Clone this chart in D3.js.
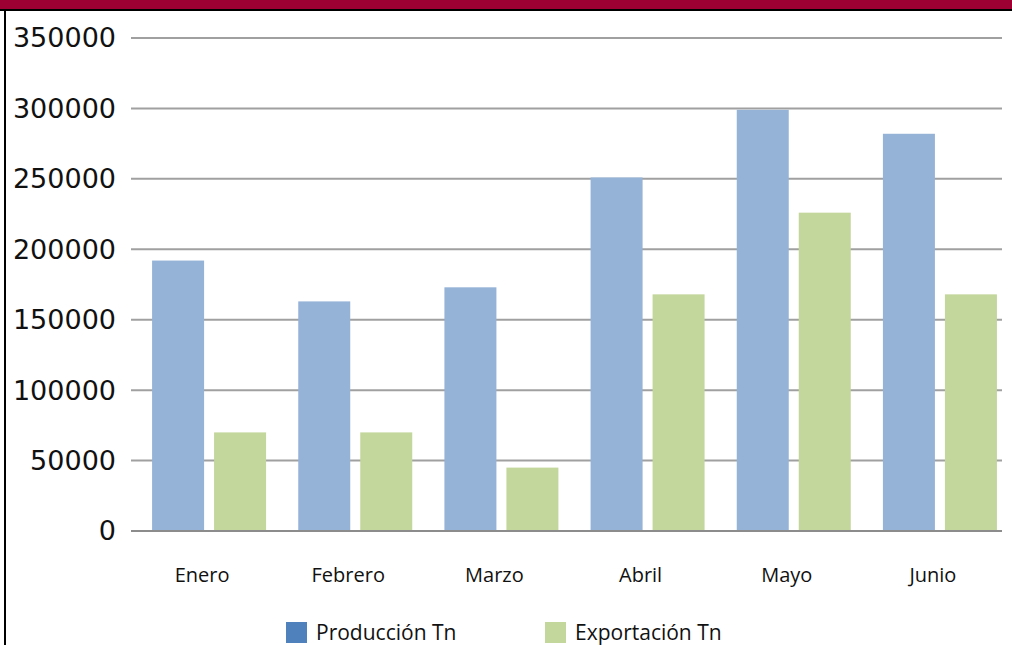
<!DOCTYPE html>
<meta charset='utf-8'>
<style>
  body { margin: 0; background: #fff; }
  .ylab { font-family: 'DejaVu Sans', sans-serif; font-size: 27px; fill: #111; }
  .xlab { font-family: 'Open Sans', sans-serif; font-size: 20px; fill: #111; }
  .leg { font-family: 'Open Sans', sans-serif; font-size: 21px; fill: #111; }
</style>
<svg width='1012' height='645'></svg>
<script src="https://d3js.org/d3.v7.min.js"></script>
<script>
  var months = ['Enero', 'Febrero', 'Marzo', 'Abril', 'Mayo', 'Junio'];
  var produccion = [192000, 163000, 173000, 251000, 299000, 282000];
  var exportacion = [70000, 70000, 45000, 168000, 226000, 168000];
  var seriesNames = ['Producción Tn', 'Exportación Tn'];
  var yTicks = [0, 50000, 100000, 150000, 200000, 250000, 300000, 350000];

  var barColors = ['#95b3d7', '#c3d69b'];
  var legendColors = ['#4f81bd', '#c3d69b'];

  var svg = d3.select('svg');

  // header band and frame
  svg.append('rect').attr('x', 0).attr('y', 0).attr('width', 1012).attr('height', 9).attr('fill', '#9e0034');
  svg.append('rect').attr('x', 0).attr('y', 9).attr('width', 1012).attr('height', 2).attr('fill', '#000');
  svg.append('rect').attr('x', 4).attr('y', 9).attr('width', 2).attr('height', 636).attr('fill', '#000');

  var y = d3.scaleLinear().domain([0, 350000]).range([531, 38]);
  var x0 = d3.scaleBand().domain(months).range([136, 1013]);
  var x1 = d3.scaleBand().domain([0, 1]).range([0, 114]).paddingInner(10 / 62);

  // gridlines
  svg.append('g').selectAll('line').data(yTicks).enter().append('line')
    .attr('x1', 131).attr('x2', 1002)
    .attr('y1', function(d) { return y(d); })
    .attr('y2', function(d) { return y(d); })
    .attr('stroke', function(d) { return d === 0 ? '#8c8c8c' : '#a0a0a0'; })
    .attr('stroke-width', 2);

  svg.append('g').selectAll('text').data(yTicks).enter().append('text')
    .attr('class', 'ylab')
    .attr('x', 116)
    .attr('y', function(d) { return y(d); })
    .attr('dy', '0.35em')
    .attr('text-anchor', 'end')
    .text(function(d) { return d; });

  var rows = months.map(function(m, i) { return { m: m, v: [produccion[i], exportacion[i]] }; });

  var groups = svg.append('g').selectAll('g').data(rows).enter().append('g')
    .attr('transform', function(d) { return 'translate(' + (x0(d.m) + x0.bandwidth() / 2 - 57) + ',0)'; });

  groups.selectAll('rect').data(function(d) { return d.v; }).enter().append('rect')
    .attr('x', function(d, i) { return x1(i); })
    .attr('width', x1.bandwidth())
    .attr('y', function(d) { return y(d); })
    .attr('height', function(d) { return y(0) - y(d) - 1; })
    .attr('fill', function(d, i) { return barColors[i]; });

  svg.append('g').selectAll('text').data(months).enter().append('text')
    .attr('class', 'xlab')
    .attr('x', function(d) { return x0(d) + x0.bandwidth() / 2 - 7; })
    .attr('y', 582)
    .attr('text-anchor', 'middle')
    .text(function(d) { return d; });

  // legend
  var legX = [286, 545];
  var leg = svg.append('g').selectAll('g').data(seriesNames).enter().append('g')
    .attr('transform', function(d, i) { return 'translate(' + legX[i] + ',622)'; });
  leg.append('rect').attr('width', 21).attr('height', 21)
    .attr('fill', function(d, i) { return legendColors[i]; });
  leg.append('text').attr('class', 'leg').attr('x', 30).attr('y', 18)
    .text(function(d) { return d; });
</script>
